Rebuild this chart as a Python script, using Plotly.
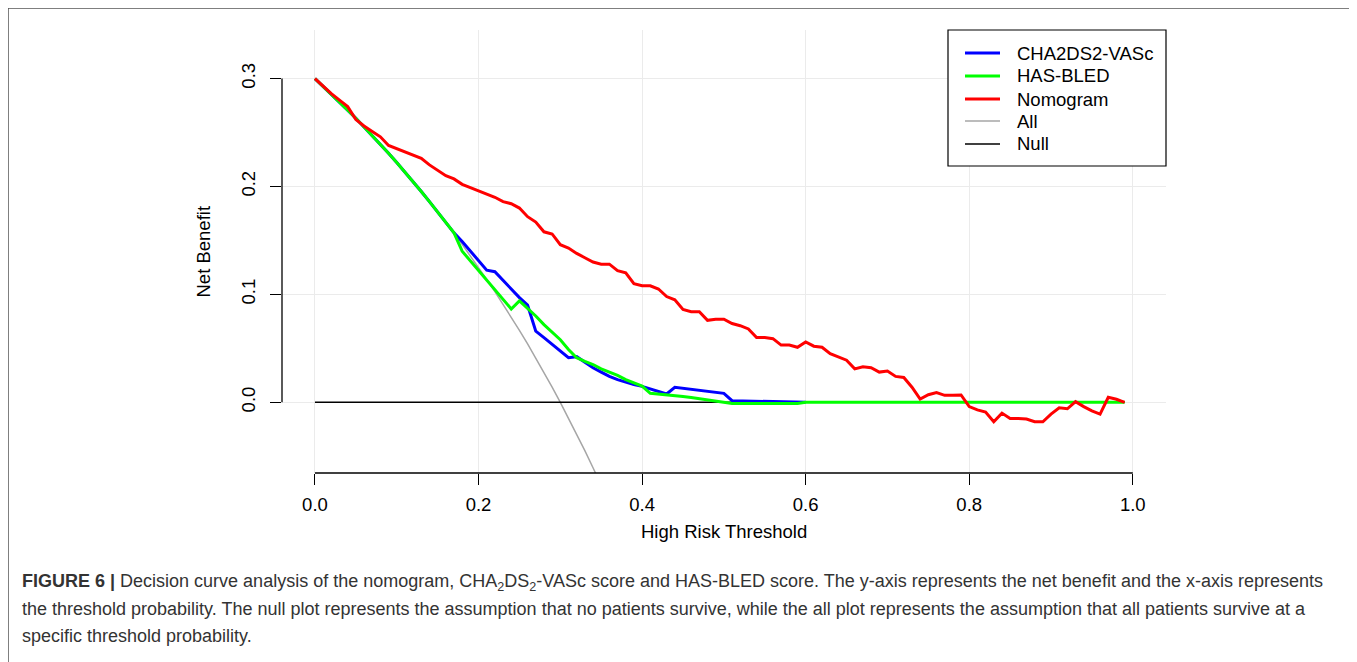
import plotly.graph_objects as go

# The page body has an 8px margin, so the figure is drawn 8px smaller and
# all reference pixel positions are shifted by that offset.
OFF = 8
W, H = 1357 - OFF, 662 - OFF


def px(x):
    return (x - OFF) / W


def py(y):
    return 1 - (y - OFF) / H


# ---------------- data ----------------
thresholds = [round(i * 0.01, 2) for i in range(100)]

nomogram = [
    0.300, 0.293, 0.286, 0.280, 0.274, 0.262, 0.256, 0.251, 0.246, 0.238,
    0.235, 0.232, 0.229, 0.226, 0.220, 0.215, 0.210, 0.207, 0.202, 0.199,
    0.196, 0.193, 0.190, 0.186, 0.184, 0.180, 0.172, 0.167, 0.158, 0.156,
    0.146, 0.143, 0.138, 0.134, 0.130, 0.128, 0.128, 0.122, 0.120, 0.110,
    0.108, 0.108, 0.105, 0.098, 0.095, 0.086, 0.084, 0.084, 0.076, 0.077,
    0.077, 0.073, 0.071, 0.068, 0.060, 0.060, 0.059, 0.053, 0.053, 0.051,
    0.056, 0.052, 0.051, 0.045, 0.042, 0.039, 0.031, 0.033, 0.032, 0.028,
    0.029, 0.024, 0.023, 0.014, 0.003, 0.007, 0.009, 0.0065, 0.0065, 0.0068,
    -0.004, -0.007, -0.009, -0.018, -0.010, -0.015, -0.015, -0.0155, -0.018, -0.018,
    -0.011, -0.005, -0.006, 0.0006, -0.004, -0.008, -0.011, 0.0046, 0.0028, 0.000,
]

cha2ds2_x = thresholds[:61]
cha2ds2 = [
    0.3000, 0.2929, 0.2857, 0.2784, 0.2708, 0.2632, 0.2553, 0.2473, 0.2391, 0.2308,
    0.2222, 0.2135, 0.2045, 0.1954, 0.1860, 0.1765, 0.1667, 0.1570, 0.1490, 0.1400,
    0.1310, 0.1225, 0.1210, 0.1130, 0.1050, 0.0970, 0.0900, 0.0660, 0.0600, 0.0540,
    0.0480, 0.0414, 0.0423, 0.0370, 0.0320, 0.0280, 0.0240, 0.0210, 0.0185, 0.0165,
    0.0148, 0.0125, 0.0098, 0.0077, 0.0139, 0.0130, 0.0120, 0.0111, 0.0102, 0.0092,
    0.0083, 0.0015, 0.0014, 0.0012, 0.0010, 0.0009, 0.0007, 0.0005, 0.0004, 0.0002,
    0.0000,
]

hasbled = [
    0.3000, 0.2929, 0.2857, 0.2784, 0.2708, 0.2632, 0.2553, 0.2473, 0.2391, 0.2308,
    0.2222, 0.2135, 0.2045, 0.1954, 0.1860, 0.1765, 0.1667, 0.1570, 0.1400, 0.1310,
    0.1220, 0.1130, 0.1040, 0.0950, 0.0865, 0.0940, 0.0870, 0.0800, 0.0720, 0.0650,
    0.0580, 0.0490, 0.0413, 0.0380, 0.0350, 0.0310, 0.0280, 0.0250, 0.0210, 0.0180,
    0.0151, 0.0083, 0.0077, 0.0071, 0.0063, 0.0054, 0.0045, 0.0035, 0.0025, 0.0015,
    0.0006, -0.0010, -0.0010, -0.0010, -0.0010, -0.0010, -0.0010, -0.0010, -0.0010, -0.0010,
    0.0, 0.0, 0.0, 0.0, 0.0, 0.0, 0.0, 0.0, 0.0, 0.0,
    0.0, 0.0, 0.0, 0.0, 0.0, 0.0, 0.0, 0.0, 0.0, 0.0,
    0.0, 0.0, 0.0, 0.0, 0.0, 0.0, 0.0, 0.0, 0.0, 0.0,
    0.0, 0.0, 0.0, 0.0, 0.0, 0.0, 0.0, 0.0, 0.0, 0.0,
]

all_x = thresholds[:36]
all_nb = [
    0.3000, 0.2929, 0.2857, 0.2784, 0.2708, 0.2632, 0.2553, 0.2473, 0.2391, 0.2308,
    0.2222, 0.2135, 0.2045, 0.1954, 0.1860, 0.1765, 0.1667, 0.1566, 0.1463, 0.1358,
    0.1250, 0.1139, 0.1026, 0.0909, 0.0789, 0.0667, 0.0541, 0.0411, 0.0278, 0.0141,
    0.0000, -0.0145, -0.0294, -0.0448, -0.0606, -0.0769,
]

null_x = [0.0, 0.99]
null_nb = [0.0, 0.0]

series_names = ["CHA2DS2-VASc", "HAS-BLED", "Nomogram", "All", "Null"]

x_ticks = [0.0, 0.2, 0.4, 0.6, 0.8, 1.0]
x_ticktext = ["0.0", "0.2", "0.4", "0.6", "0.8", "1.0"]
y_ticks = [0.0, 0.1, 0.2, 0.3]
y_ticktext = ["0.0", "0.1", "0.2", "0.3"]

# ---------------- styles / geometry ----------------
COLORS = {"CHA2DS2-VASc": "#0000FF", "HAS-BLED": "#00FF00", "Nomogram": "#FF0000",
          "All": "#A6A6A6", "Null": "#000000"}
WIDTHS = {"CHA2DS2-VASc": 3, "HAS-BLED": 3, "Nomogram": 3, "All": 1.5, "Null": 1.5}
PX_L, PX_R, PX_T, PX_B = 282, 1166, 30, 473
XR = [-0.0403, 1.0406]
YR = [-0.0655, 0.345]
FONT = "Liberation Sans, Arial, sans-serif"

fig = go.Figure()
for name, xs, ys in [("All", all_x, all_nb), ("Null", null_x, null_nb),
                     ("CHA2DS2-VASc", cha2ds2_x, cha2ds2),
                     ("HAS-BLED", thresholds, hasbled),
                     ("Nomogram", thresholds, nomogram)]:
    fig.add_trace(go.Scatter(x=xs, y=ys, mode="lines", name=name, showlegend=False,
                             line=dict(color=COLORS[name], width=WIDTHS[name])))

dom_x = [px(PX_L), px(PX_R)]
dom_y = [py(PX_B), py(PX_T)]

fig.update_layout(
    width=W, height=H,
    margin=dict(l=0, r=0, t=0, b=0),
    paper_bgcolor="white", plot_bgcolor="white",
    font=dict(family=FONT, color="black"),
    showlegend=False,
    xaxis=dict(
        domain=dom_x, range=XR, tickvals=x_ticks, ticktext=x_ticktext,
        showgrid=True, gridcolor="#EBEBEB", gridwidth=1, zeroline=False,
        showline=False, ticks="outside", ticklen=11, tickwidth=1.3, tickcolor="black",
        tickfont=dict(size=18.5, family=FONT, color="black"), ticklabelstandoff=4,
        fixedrange=True,
    ),
    yaxis=dict(
        domain=dom_y, range=YR, tickvals=y_ticks, ticktext=y_ticktext,
        showgrid=True, gridcolor="#EBEBEB", gridwidth=1, zeroline=False,
        showline=False, ticks="outside", ticklen=11, tickwidth=1.3, tickcolor="black",
        tickangle=-90, tickfont=dict(size=18.5, family=FONT, color="black"),
        ticklabelstandoff=8, fixedrange=True,
    ),
)

# R-style axis lines spanning only the tick range
fig.add_shape(type="line", xref="x", yref="paper", x0=x_ticks[0], x1=x_ticks[-1],
              y0=dom_y[0], y1=dom_y[0], line=dict(color="black", width=1.3))
fig.add_shape(type="line", xref="paper", yref="y", x0=dom_x[0], x1=dom_x[0],
              y0=y_ticks[0], y1=y_ticks[-1], line=dict(color="black", width=1.3))

# outer frame (top, left, right; open at the bottom)
fig.add_shape(type="path", xref="paper", yref="paper",
              path=f"M {px(8)},0 L {px(8)},{py(8)} L {px(1353)},{py(8)} L {px(1353)},0",
              line=dict(color="#555555", width=1.5))

# legend box (R style, top-right of the plot region)
LG_L, LG_R, LG_T, LG_B = 948, 1166, 30, 166
fig.add_shape(type="rect", xref="paper", yref="paper",
              x0=px(LG_L), x1=px(LG_R), y0=py(LG_B), y1=py(LG_T),
              line=dict(color="black", width=1.2), fillcolor="white", layer="above")
row_y = [53, 76, 99, 121, 144]
for name, ry in zip(series_names, row_y):
    fig.add_shape(type="line", xref="paper", yref="paper", x0=px(965), x1=px(1000),
                  y0=py(ry), y1=py(ry), layer="above",
                  line=dict(color=COLORS[name], width=WIDTHS[name]))
    fig.add_annotation(text=name, xref="paper", yref="paper", x=px(1015), y=py(ry),
                       xanchor="left", yanchor="middle", showarrow=False,
                       font=dict(size=18.5, family=FONT, color="black"))

# axis titles
fig.add_annotation(text="High Risk Threshold", xref="x", yref="paper",
                   x=0.5, y=py(531), showarrow=False, xanchor="center", yanchor="middle",
                   font=dict(size=18.5, family=FONT, color="black"))
fig.add_annotation(text="Net Benefit", xref="paper", yref="paper",
                   x=px(203), y=(dom_y[0] + dom_y[1]) / 2, textangle=-90, showarrow=False,
                   xanchor="center", yanchor="middle",
                   font=dict(size=18.5, family=FONT, color="black"))

caption = [
    "<b>FIGURE 6 |</b> Decision curve analysis of the nomogram, CHA<sub>2</sub>DS<sub>2</sub>-VASc score "
    "and HAS-BLED score. The y-axis represents the net benefit and the x-axis represents",
    "the threshold probability. The null plot represents the assumption that no patients survive, "
    "while the all plot represents the assumption that all patients survive at a",
    "specific threshold probability.",
]
cap_y = [582, 609, 636]
for txt, yy in zip(caption, cap_y):
    fig.add_annotation(text=txt, xref="paper", yref="paper", x=px(20), y=py(yy),
                       xanchor="left", yanchor="middle", showarrow=False, align="left",
                       font=dict(size=18, family=FONT, color="#333333"))

fig.write_html("out.html")
